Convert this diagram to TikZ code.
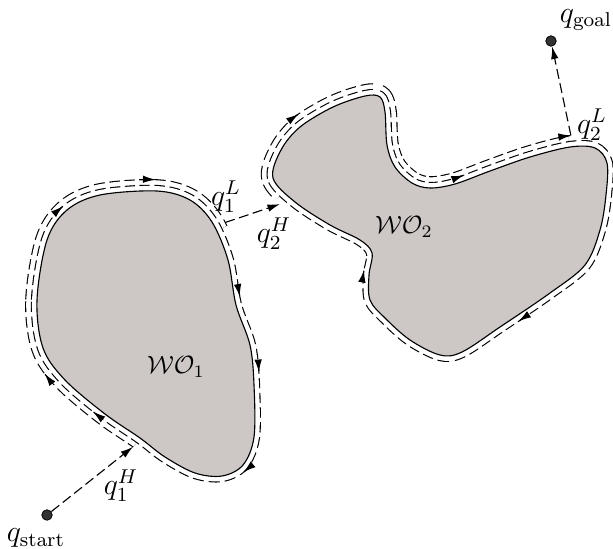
\documentclass[tikz,border=0pt]{standalone}
\usetikzlibrary{decorations.markings,arrows.meta}
\definecolor{obst}{RGB}{205,200,197}
\definecolor{dotc}{RGB}{50,50,50}
\def\WOone{plot[smooth cycle,tension=0.55] coordinates{(43,348) (37,300) (47,240) (67,210) (100,195) (157,191) (190,200) (212,222) (228,260) (236,305) (250,345) (254,385) (254,437) (243,465) (222,476) (195,473) (165,457) (140,438) (105,414) (65,380)}}
\def\WOtwo{plot[smooth cycle,tension=0.55] coordinates{(295,202) (273,178) (281,150) (300,127) (333,107) (365,96) (380,97) (385,112) (387,145) (395,167) (412,183) (430,188) (455,184) (490,171) (530,157) (570,147) (595,148) (607,163) (606,195) (600,230) (585,265) (550,293) (500,327) (462,352) (440,355) (410,340) (385,318) (370,300) (369,275) (372,253) (360,240) (330,225)}}
\newcommand\arr[1]{\draw[-{Latex[length=5pt,width=3pt]},solid,line width=0.45pt] (-0.3pt,#1) -- (0pt,#1);}
\begin{document}
\begin{tikzpicture}[x=0.4pt,y=-0.4pt,
  dtrackA/.style={draw=black,line width=4.85pt,dash pattern=on 4pt off 1.8pt,line join=round},
  wtrackA/.style={draw=white,line width=3.95pt,line join=round},
  dtrackB/.style={draw=black,line width=9.45pt,dash pattern=on 4pt off 1.8pt,line join=round},
  wtrackB/.style={draw=white,line width=8.55pt,line join=round},
  bnd/.style={draw=black,line width=0.45pt,fill=obst},
  conn/.style={draw,line width=0.45pt,dash pattern=on 4pt off 1.8pt,-{Latex[length=5pt,width=3pt]}},
  dot/.style={circle,fill=dotc,draw=black,line width=0.3pt,inner sep=0pt,minimum size=4.2pt},
  lbl/.style={inner sep=1pt,font=\fontsize{11.5}{13}\selectfont}]
\useasboundingbox (0,0) rectangle (613,548);
% obstacle 1: partial second lap
\begin{scope}
  \clip (116,470) -- (-60,470) -- (-60,-60) -- (300,-60) -- (250,215) -- (188,244) -- (158,414) -- cycle;
  \path[dtrackB] \WOone;
  \path[wtrackB] \WOone;
\end{scope}
\path[dtrackA] \WOone;
\path[wtrackA] \WOone;
\path[bnd] \WOone;
% obstacle 2: partial second lap
\begin{scope}
  \clip (248,214) -- (200,214) -- (200,-60) -- (568,-60) -- (568,220) -- (440,240) -- (320,175) -- cycle;
  \path[dtrackB] \WOtwo;
  \path[wtrackB] \WOtwo;
\end{scope}
\path[dtrackA] \WOtwo;
\path[wtrackA] \WOtwo;
\path[bnd] \WOtwo;
% arrows and special points on the tracks
\path[decorate,decoration={markings,
  mark=at position 0.12 with {\arr{2.2pt}},
  mark=at position 0.234 with {\arr{4.5pt}},
  mark=at position 0.326 with {\coordinate (L1) at (0pt,4.5pt);},
  mark=at position 0.416 with {\arr{2.2pt}},
  mark=at position 0.512 with {\arr{2.2pt}},
  mark=at position 0.635 with {\arr{2.2pt}},
  mark=at position 0.775 with {\coordinate (H1) at (0pt,4.5pt);},
  mark=at position 0.84 with {\arr{2.2pt}},
  mark=at position 0.913 with {\arr{4.5pt}}}] \WOone;
\path[decorate,decoration={markings,
  mark=at position 0.066 with {\arr{4.5pt}},
  mark=at position 0.3 with {\arr{2.2pt}},
  mark=at position 0.412 with {\arr{4.5pt}\coordinate (L2) at (0pt,4.5pt);},
  mark=at position 0.648 with {\arr{2.2pt}},
  mark=at position 0.855 with {\arr{2.2pt}},
  mark=at position 0.977 with {\coordinate (H2) at (0pt,4.5pt);}}] \WOtwo;
% start and goal
\node[dot] (start) at (47,515) {};
\node[dot] (goal) at (551,41) {};
\draw[conn] (start) -- (H1);
\draw[conn] (L1) -- (H2);
\draw[conn] (L2) -- (goal);
% labels
\node[lbl] (ls) at (36,538) {$q_{\mathrm{start}}$};
\node[lbl] (lg) at (586,20) {$q_{\mathrm{goal}}$};
\node[lbl] (l1h) at (121,486) {$q_1^H$};
\node[lbl] (l1l) at (226,197) {$q_1^L$};
\node[lbl] (l2h) at (274,234) {$q_2^H$};
\node[lbl] (l2l) at (592,125) {$q_2^L$};
\node[inner sep=1pt] (w1) at (176,367) {$\mathcal{W}\mathcal{O}_1$};
\node[inner sep=1pt] (w2) at (404,227) {$\mathcal{W}\mathcal{O}_2$};
\end{tikzpicture}
\end{document}
